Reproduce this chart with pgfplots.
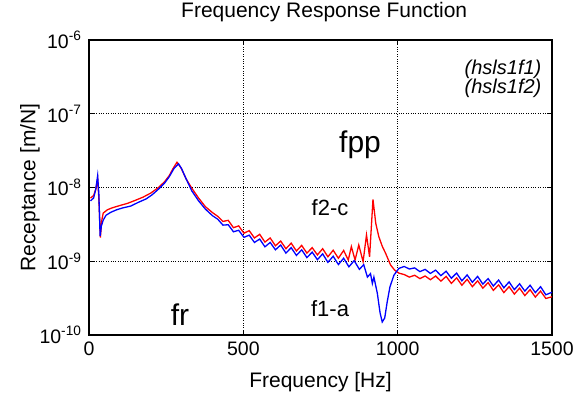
\documentclass[border=0pt]{standalone}
\usepackage{fontspec}
\setmainfont{Liberation Sans}
\usepackage{pgfplots}
\pgfplotsset{compat=1.18}
\begin{document}
\begin{tikzpicture}
\path[use as bounding box] (-89pt,-59pt) rectangle (499pt,335pt);
\begin{axis}[
  at={(0,0)}, anchor=south west,
  scale only axis, width=463pt, height=295pt,
  xmin=0, xmax=1500, ymin=1e-10, ymax=1e-6,
  ymode=log, log basis y=10, yminorticks=false,
  xtick={0,500,1000,1500},
  ytick={1e-10,1e-9,1e-8,1e-7,1e-6},
  yticklabels={10\textsuperscript{-10},10\textsuperscript{-9},10\textsuperscript{-8},10\textsuperscript{-7},10\textsuperscript{-6}},
  xticklabels={0,500,1000,1500},
  tick align=inside, major tick length=5pt,
  tick style={black, line width=0.8pt},
  xmajorgrids, ymajorgrids,
  major grid style={black, dotted, line width=0.9pt},
  axis line style={black, line width=1.2pt},
  ticklabel style={font=\fontsize{19.5}{20}\selectfont},
  xticklabel style={yshift=-3pt},
  yticklabel style={xshift=-4pt},
  title={Frequency Response Function},
  title style={font=\fontsize{21}{22}\selectfont, at={(axis description cs:0.508,1.0746)}, anchor=center},
  xlabel={Frequency [Hz]},
  xlabel style={font=\fontsize{21}{22}\selectfont, at={(axis description cs:0.5,-0.159)}, anchor=center},
  ylabel={Receptance [m/N]},
  ylabel style={font=\fontsize{21}{22}\selectfont, at={(axis description cs:-0.1274,0.5)}, anchor=center, rotate=0},
  clip=true,
]
\addplot[red, line width=1.3pt] coordinates {
(5,7.2e-9) (15,7.8e-9) (22,9.5e-9) (28,1.3e-8) (32,7e-9) (37,2.1e-9) (41,3.5e-9) (46,4.5e-9) (60,5.0e-9) (75,5.3e-9) (100,5.7e-9) (125,6.1e-9) (150,6.7e-9) (175,7.4e-9) (200,8.4e-9) (225,1.0e-8) (245,1.2e-8) (260,1.45e-8) (272,1.8e-8) (285,2.2e-8) (298,1.85e-8) (315,1.3e-8) (333,9.8e-9) (355,7.2e-9) (377,5.5e-9) (400,4.57e-9)
(417,4.07e-9) (434,3.47e-9) (451,3.59e-9) (468,2.85e-9) (485,3.02e-9) (502,2.40e-9) (519,2.60e-9) (536,2.07e-9) (553,2.32e-9) (570,1.82e-9) (587,2.07e-9) (604,1.62e-9) (621,1.88e-9) (638,1.48e-9) (655,1.76e-9) (672,1.38e-9) (689,1.64e-9) (706,1.29e-9) (723,1.53e-9) (740,1.22e-9) (757,1.48e-9) (774,1.15e-9) (791,1.41e-9) (808,1.10e-9) (825,1.40e-9) (840,1.04e-9) (850,1.58e-9) (862,1.04e-9) (874,1.66e-9) (888,9.9e-10) (899,2.27e-9) (909,1.15e-9) (920,6.9e-9) (929,3.27e-9) (939,2.15e-9) (950,1.6e-9) (961,1.28e-9) (977,8.9e-10) (990,7.6e-10) (1004,6.9e-10)
(1021,6.61e-10) (1038,6.10e-10) (1055,6.46e-10) (1072,5.82e-10) (1089,6.31e-10) (1106,5.62e-10) (1123,6.31e-10) (1140,5.37e-10) (1157,6.24e-10) (1174,5.01e-10) (1191,5.96e-10) (1208,4.73e-10) (1225,5.69e-10) (1242,4.52e-10) (1259,5.43e-10) (1276,4.32e-10) (1293,5.13e-10) (1310,4.03e-10) (1327,4.79e-10) (1344,3.76e-10) (1361,4.52e-10) (1378,3.59e-10) (1395,4.32e-10) (1412,3.43e-10) (1429,4.12e-10) (1446,3.27e-10) (1463,3.94e-10) (1480,3.13e-10) (1500,3.3e-10)
};
\addplot[blue, line width=1.3pt] coordinates {
(5,6.6e-9) (15,7.2e-9) (22,9.5e-9) (28,1.45e-8) (32,8e-9) (36,2.2e-9) (40,3.0e-9) (46,3.6e-9) (55,4.2e-9) (70,4.6e-9) (90,5.0e-9) (110,5.3e-9) (135,5.6e-9) (160,6.3e-9) (185,7.0e-9) (205,8.0e-9) (225,9.5e-9) (245,1.15e-8) (260,1.4e-8) (275,1.8e-8) (290,2.1e-8) (300,1.8e-8) (315,1.3e-8) (333,9.0e-9) (355,6.6e-9) (377,5.1e-9) (400,4.15e-9)
(417,3.72e-9) (434,3.09e-9) (451,3.13e-9) (468,2.51e-9) (485,2.63e-9) (502,2.11e-9) (519,2.26e-9) (536,1.80e-9) (553,2.00e-9) (570,1.57e-9) (587,1.80e-9) (604,1.43e-9) (621,1.66e-9) (638,1.29e-9) (655,1.53e-9) (672,1.20e-9) (689,1.43e-9) (706,1.12e-9) (723,1.33e-9) (740,1.05e-9) (757,1.26e-9) (774,9.66e-10) (791,1.17e-9) (808,9.02e-10) (825,1.10e-9) (842,8.41e-10) (859,1.02e-9) (876,7.76e-10) (890,9.0e-10) (902,6.1e-10) (912,6.8e-10) (918,5.0e-10) (923,6.1e-10) (934,3.7e-10) (943,2.0e-10) (950,1.5e-10) (958,1.7e-10) (966,2.8e-10) (975,4.5e-10) (988,6.5e-10) (1004,8.0e-10) (1021,8.5e-10)
(1038,7.85e-10) (1055,8.13e-10) (1072,7.24e-10) (1089,7.76e-10) (1106,6.84e-10) (1123,7.59e-10) (1140,6.38e-10) (1157,7.33e-10) (1174,5.89e-10) (1191,6.92e-10) (1208,5.43e-10) (1225,6.53e-10) (1242,5.19e-10) (1259,6.24e-10) (1276,4.90e-10) (1293,5.82e-10) (1310,4.62e-10) (1327,5.56e-10) (1344,4.37e-10) (1361,5.25e-10) (1378,4.12e-10) (1395,4.95e-10) (1412,3.94e-10) (1429,4.73e-10) (1446,3.76e-10) (1463,4.52e-10) (1480,3.51e-10) (1500,3.8e-10)
};
\node[anchor=east, font=\itshape\fontsize{20}{21}\selectfont] at (axis cs:1477,4.05e-7) {(hsls1f1)};
\node[anchor=east, font=\itshape\fontsize{20}{21}\selectfont] at (axis cs:1477,2.23e-7) {(hsls1f2)};
\node[anchor=center, font=\fontsize{30}{31}\selectfont] at (axis cs:878,3.77e-8) {fpp};
\node[anchor=center, font=\fontsize{22}{23}\selectfont] at (axis cs:781,5.27e-9) {f2-c};
\node[anchor=center, font=\fontsize{22}{23}\selectfont] at (axis cs:781,2.25e-10) {f1-a};
\node[anchor=center, font=\fontsize{30}{31}\selectfont] at (axis cs:295,1.87e-10) {fr};
\draw[black, line width=2.6pt] (rel axis cs:0,1) -- (rel axis cs:0,0) -- (rel axis cs:1,0);
\end{axis}
\end{tikzpicture}
\end{document}
